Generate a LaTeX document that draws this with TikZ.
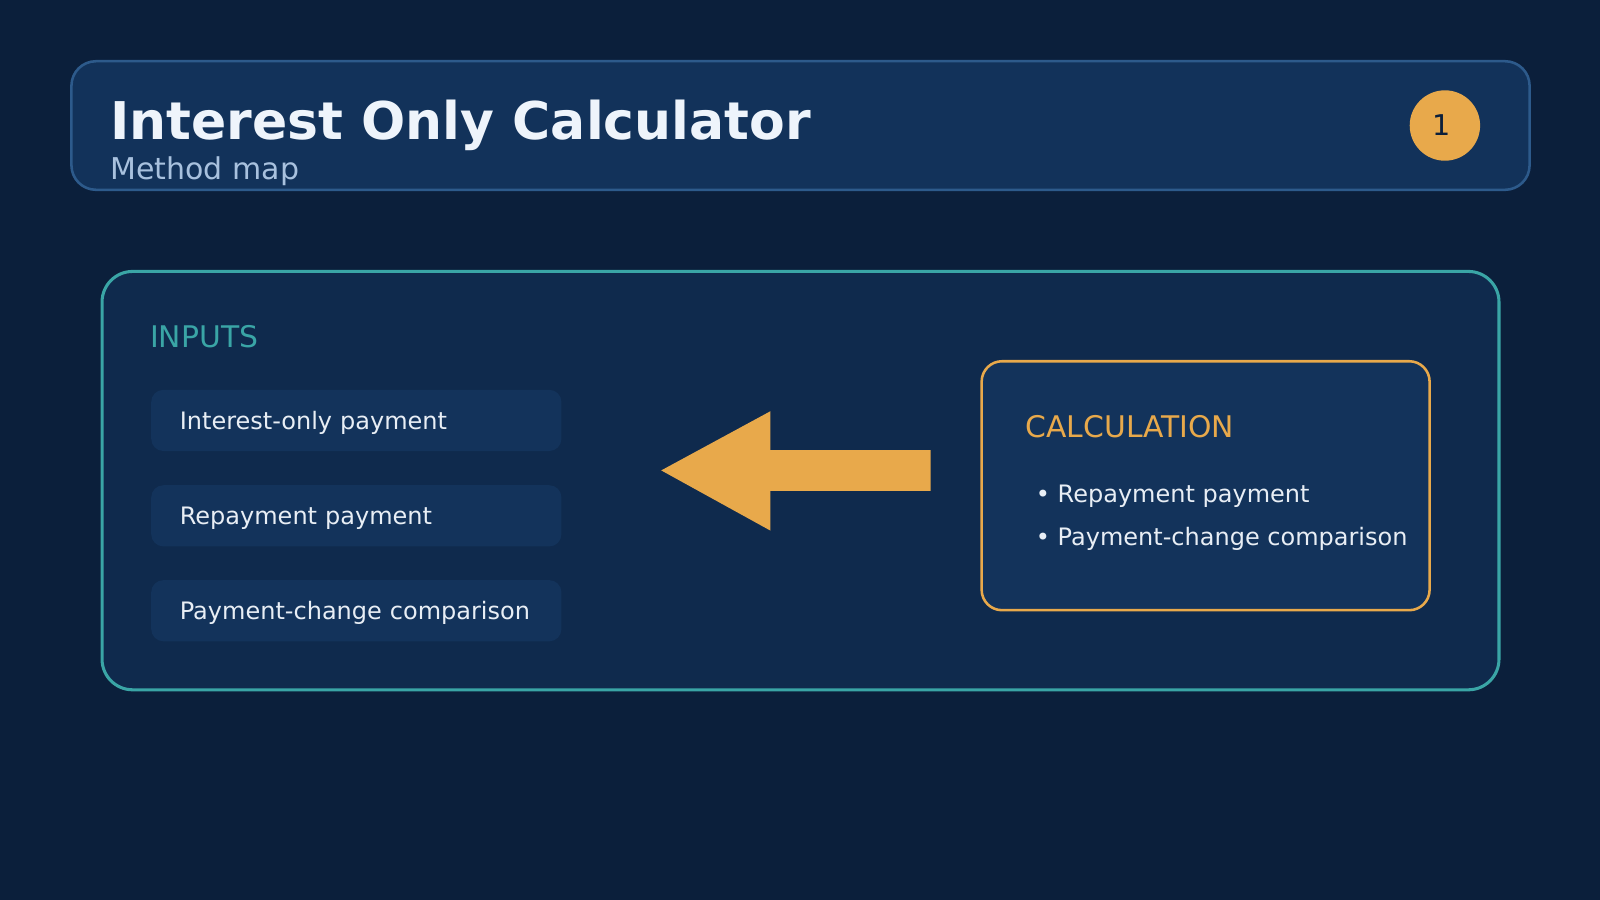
\documentclass[tikz,border=0pt]{standalone}
\usepackage{fontspec}
\setmainfont{DejaVu Sans}
\definecolor{bg}{HTML}{0B1F3B}
\definecolor{headfill}{HTML}{12325A}
\definecolor{headline}{HTML}{2D5A8B}
\definecolor{panelfill}{HTML}{0F2A4D}
\definecolor{boxfill}{HTML}{13335B}
\definecolor{teal}{HTML}{3AA5A6}
\definecolor{amber}{HTML}{E8A94B}
\definecolor{titletext}{HTML}{EEF4FB}
\definecolor{subtext}{HTML}{A8C1DE}
\definecolor{body}{HTML}{E8EEF5}
\begin{document}
\begin{tikzpicture}[x=1.0204pt,y=-1.0204pt,
		lbl/.style={anchor=base west,inner sep=0pt,font=\fontsize{24}{29}\selectfont,text=body},
		head/.style={anchor=base west,inner sep=0pt,font=\fontsize{29.8}{35}\selectfont},
		inbox/.style={lbl,anchor=west,fill=boxfill,rounded corners=12.2pt,minimum width=410pt,minimum height=61.2pt,
			text height=17.3pt,text depth=0pt,inner xsep=28.6pt,inner ysep=0pt,align=left,text width=353pt}]
	\fill[bg] (0,0) rectangle (1568,882);
	\useasboundingbox (0,0) rectangle (1568,882);

	\draw[headline,fill=headfill,line width=2.55pt,rounded corners=24.5pt] (70,60) rectangle (1499,186);
	\node[anchor=base west,inner sep=0pt,text=titletext,font=\fontsize{52}{61}\selectfont\bfseries] (title) at (108,137) {Interest Only Calculator};
	\node[anchor=base west,inner sep=0pt,text=subtext,font=\fontsize{30}{35}\selectfont] (subtitle) at (108,176) {Method map};
	\node[circle,fill=amber,minimum size=70.4pt,inner sep=0pt,text=bg,font=\fontsize{28.6}{34}\selectfont] (badge) at (1416,123) {\hspace{-6pt}1};

	\draw[teal,fill=panelfill,line width=3.06pt,rounded corners=30.6pt] (100,266) rectangle (1469,676);
	\node[head,text=teal] (inputs) at (147,341) {INPUTS};
	\node[inbox] (in1) at (148,412) {Interest-only payment};
	\node[inbox] (in2) at (148,505.5) {Repayment payment};
	\node[inbox] (in3) at (148,598.5) {Payment-change comparison};

	\fill[amber] (912,441) -- (755,441) -- (755,403) -- (648,461) -- (755,520) -- (755,481) -- (912,481) -- cycle;

	\draw[amber,fill=boxfill,line width=2.55pt,rounded corners=20.4pt] (962,354) rectangle (1401,598);
	\node[head,text=amber] (calc) at (1005,429) {CALCULATION};
	\node[lbl] (calc1) at (1015,492) {• Repayment payment};
	\node[lbl] (calc2) at (1015,535) {• Payment-change comparison};
\end{tikzpicture}
\end{document}
